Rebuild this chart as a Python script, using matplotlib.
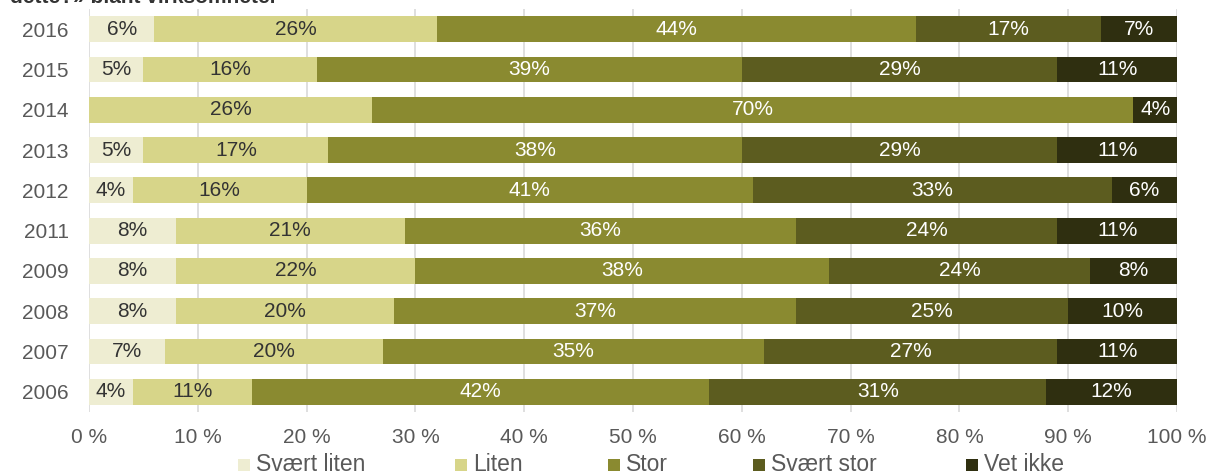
import matplotlib.pyplot as plt
import numpy as np
from matplotlib.patches import Rectangle

plt.rcParams['font.family'] = ['Liberation Sans', 'DejaVu Sans']

years = ["2016", "2015", "2014", "2013", "2012", "2011", "2009", "2008", "2007", "2006"]
categories = ["Svært liten", "Liten", "Stor", "Svært stor", "Vet ikke"]

svaert_liten = [6, 5, 0, 5, 4, 8, 8, 8, 7, 4]
liten = [26, 16, 26, 17, 16, 21, 22, 20, 20, 11]
stor = [44, 39, 70, 38, 41, 36, 38, 37, 35, 42]
svaert_stor = [17, 29, 0, 29, 33, 24, 24, 25, 27, 31]
vet_ikke = [7, 11, 4, 11, 6, 11, 8, 10, 11, 12]

series = [svaert_liten, liten, stor, svaert_stor, vet_ikke]
colors = ["#EEEDD2", "#D7D589", "#8A8A30", "#5C5C1F", "#2F2F10"]
text_colors = ["#333333", "#333333", "white", "white", "white"]

W, H = 1209, 474
fig = plt.figure(figsize=(W / 100, H / 100), dpi=100)
ax = fig.add_axes([89 / W, 1 - 412 / H, 1088 / W, 403 / H])

y = np.arange(len(years))
left = np.zeros(len(years))
for vals, col, tcol in zip(series, colors, text_colors):
    vals = np.array(vals, dtype=float)
    ax.barh(y, vals, left=left, height=0.64, color=col, zorder=2)
    for yi, (l, v) in enumerate(zip(left, vals)):
        if v > 0:
            ax.text(l + v / 2, yi, f"{int(v)}%", ha='center', va='center',
                    color=tcol, fontsize=15, zorder=3)
    left += vals

ax.set_xlim(0, 100)
ax.set_ylim(len(years) - 0.5, -0.5)
ax.set_yticks(y)
ax.set_yticklabels(years)
ax.set_xticks(np.arange(0, 101, 10))
ax.set_xticklabels([f"{v} %" for v in range(0, 101, 10)])
ax.tick_params(axis='both', length=0, labelsize=15, labelcolor='#595959')
ax.tick_params(axis='x', pad=11.5)
ax.tick_params(axis='y', pad=14.5)
ax.grid(axis='x', color='#D9D9D9', linewidth=1.2, zorder=0)
for s in ax.spines.values():
    s.set_visible(False)

# legend drawn by hand to match the spacing of the original
legend_x = [238, 455, 608, 753, 966]
for lx, c, name in zip(legend_x, colors, categories):
    fig.patches.append(Rectangle((lx / W, 1 - 471 / H), 12 / W, 12 / H,
                                 transform=fig.transFigure, facecolor=c,
                                 edgecolor='none'))
    fig.text((lx + 18) / W, 1 - 464.5 / H, name, fontsize=16.5, color='#595959',
             va='center', ha='left')

fig.text(10 / W, 1 - 3 / H, "dette?» blant virksomheter", fontsize=15,
         fontweight='bold', color='#333333', va='baseline', ha='left')

fig.savefig("out.png", dpi=100)
